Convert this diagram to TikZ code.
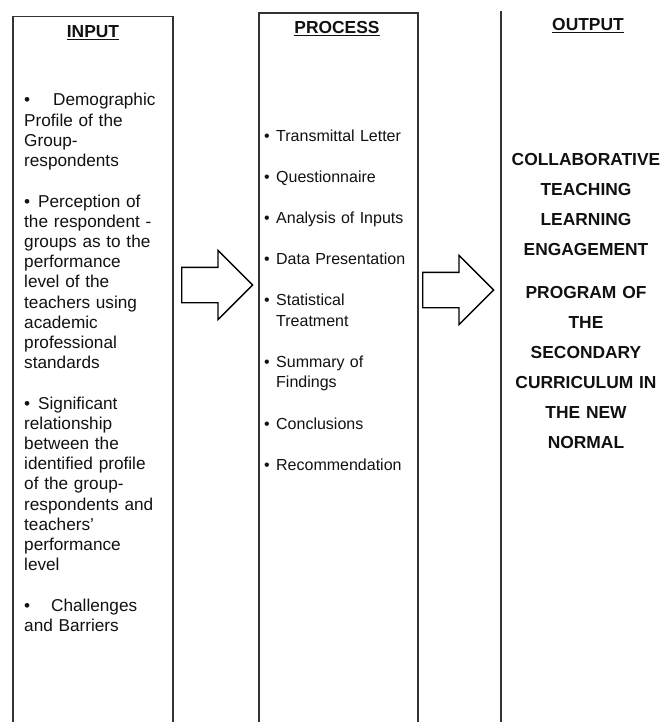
\documentclass[tikz,border=0pt]{standalone}
\usepackage{fontspec}
\setmainfont{Liberation Sans}
\usepackage{xcolor}
\usetikzlibrary{shapes.arrows}

\definecolor{frame}{HTML}{333333}
\definecolor{ink}{HTML}{111111}

\tikzset{
  column/.style={draw=frame, line width=1.5pt, inner sep=0pt, anchor=north west},
  heading/.style={font=\fontsize{17.4}{20}\selectfont\bfseries, text=ink, inner sep=0pt, anchor=base},
  inputtext/.style={font=\fontsize{17.2}{20.2}\selectfont, text=ink, inner sep=0pt,
    anchor=base west, text width=146pt, align=left},
  processtext/.style={font=\fontsize{16}{20.5}\selectfont, text=ink, inner sep=0pt,
    anchor=base west, text width=148pt, align=left},
  outputtext/.style={font=\fontsize{17.4}{30}\selectfont\bfseries, text=ink, inner sep=0pt,
    anchor=base, text width=156pt, align=center},
  blockarrow/.style={single arrow, draw=black, line width=1.3pt, fill=white,
    inner xsep=0pt, inner ysep=17pt, minimum height=71pt,
    single arrow head extend=17pt, anchor=tail}
}

\begin{document}
\begin{tikzpicture}[x=1pt, y=-1pt]
  \useasboundingbox (0,0) rectangle (663,722);

  % Columns (open below the page edge)
  \node[column, minimum width=160pt, minimum height=740pt] (input) at (12,15.7) {};
  \node[column, minimum width=159pt, minimum height=740pt] (process) at (258,12.5) {};
  \draw[draw=frame, line width=1.5pt] (501,11) -- (501,722);

  % Headings
  \node[heading] (inhead)   at (93,37.5) {\underline{INPUT}};
  \node[heading] (prochead) at (337,34)  {\underline{PROCESS}};
  \node[heading] (outhead)  at (588,31)  {\underline{OUTPUT}};

  % Input items
  \node[inputtext] (in1) at (24,106)
    {\makebox[29pt][l]{•}Demographic\\Profile of the\\Group-\\respondents};
  \node[inputtext] (in2) at (24,207)
    {\makebox[14pt][l]{•}Perception of\\the respondent -\\groups as to the\\performance\\level of the\\teachers using\\academic\\professional\\standards};
  \node[inputtext] (in3) at (24,409)
    {\makebox[14pt][l]{•}Significant\\relationship\\between the\\identified profile\\of the group-\\respondents and\\teachers’\\performance\\level};
  \node[inputtext] (in4) at (24,611)
    {\makebox[27pt][l]{•}Challenges\\and Barriers};

  % Process items
  \node[processtext] (steps) at (264,142)
    {\makebox[12pt][l]{•}Transmittal Letter\\[20.5pt]
     \makebox[12pt][l]{•}Questionnaire\\[20.5pt]
     \makebox[12pt][l]{•}Analysis of Inputs\\[20.5pt]
     \makebox[12pt][l]{•}Data Presentation\\[20.5pt]
     \makebox[12pt][l]{•}Statistical\\\hspace*{12pt}Treatment\\[20.5pt]
     \makebox[12pt][l]{•}Summary of\\\hspace*{12pt}Findings\\[20.5pt]
     \makebox[12pt][l]{•}Conclusions\\[20.5pt]
     \makebox[12pt][l]{•}Recommendation};

  % Output
  \node[outputtext] (program) at (586,165)
    {COLLABORATIVE\\TEACHING\\LEARNING\\ENGAGEMENT\\[13pt]
     PROGRAM OF\\THE\\SECONDARY\\CURRICULUM IN\\THE NEW\\NORMAL};

  % Block arrows
  \node[blockarrow] (toprocess) at (181,285) {};
  \node[blockarrow] (tooutput)  at (422,290) {};
\end{tikzpicture}
\end{document}
